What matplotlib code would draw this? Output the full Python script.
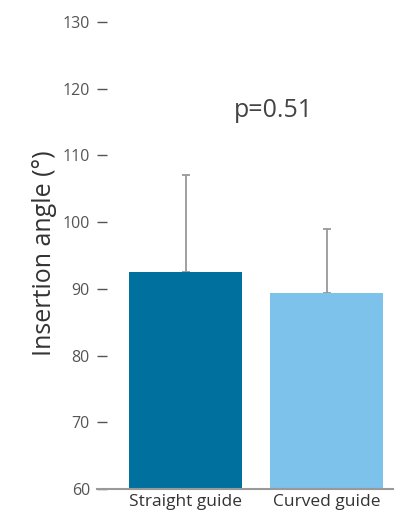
import numpy as np
import matplotlib
matplotlib.use('Agg')
import matplotlib.pyplot as plt

# data
groups = ['Straight guide', 'Curved guide']
means = [92.5, 89.4]
upper_sd = [14.6, 9.6]
colors = ['#00719e', '#7cc2eb']
p_text = 'p=0.51'

plt.rcParams['font.family'] = ['Open Sans', 'DejaVu Sans']

fig = plt.figure(figsize=(4.02, 5.13), dpi=100)
ax = fig.add_axes([0.241, 0.047, 0.737, 0.91])

x = np.arange(len(groups))
ax.bar(x, means, width=0.8, color=colors, zorder=2)
ax.errorbar(x, means, yerr=[np.zeros(len(means)), upper_sd], fmt='none',
            ecolor='#999999', elinewidth=1.3, capsize=3, capthick=1.3, zorder=1)

ax.set_ylim(60, 130)
ax.set_xlim(-0.628, 1.47)
ax.set_yticks(np.arange(60, 131, 10))
ax.set_xticks(x)
ax.set_xticklabels(groups, fontsize=12.5, color='#333333')
ax.tick_params(axis='y', direction='in', length=7, width=1, color='#555555',
               labelsize=11.5, labelcolor='#555555', pad=5)
ax.tick_params(axis='x', length=0, pad=4)

for s in ['top', 'right', 'left']:
    ax.spines[s].set_visible(False)
ax.spines['bottom'].set_color('#999999')
ax.spines['bottom'].set_linewidth(1.5)

ax.set_ylabel('Insertion angle (°)', fontsize=18, color='#333333')
ax.yaxis.set_label_coords(-0.135, 0.505)
ax.text(0.62, 116.7, p_text, fontsize=18, color='#444444', ha='center', va='center')

fig.savefig('out.png', dpi=100)
